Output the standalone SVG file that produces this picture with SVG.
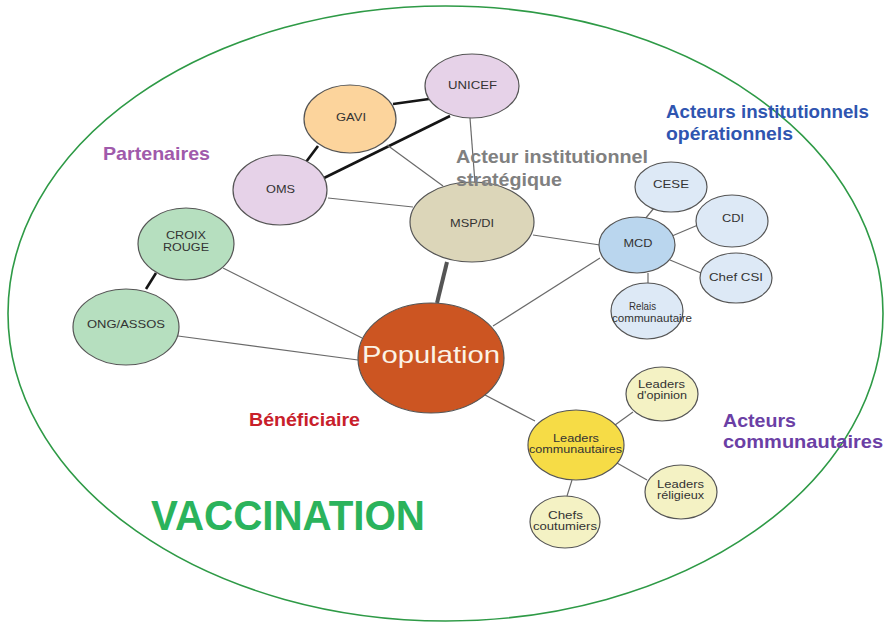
<svg xmlns="http://www.w3.org/2000/svg" width="887" height="624" viewBox="0 0 887 624">
<style>
.n{stroke:#555;stroke-width:1.2}
.t{font-family:"Liberation Sans",Arial,sans-serif;font-size:11px;fill:#333;text-anchor:middle}
.thin{stroke:#6a6a6a;stroke-width:1.2;fill:none}
.thick{stroke:#151515;stroke-width:2.6;fill:none}
.h{font-family:"Liberation Sans",Arial,sans-serif;font-weight:bold;font-size:18.5px}
.lav{fill:#e6d2e8}.lb{fill:#dde9f6}.gr{fill:#b6dfbf}.ly{fill:#f4f2c4}
</style>
<rect width="887" height="624" fill="#fff"/>
<ellipse cx="445.5" cy="313.5" rx="437.5" ry="307.5" fill="none" stroke="#2e9a46" stroke-width="1.6"/>
<g id="connectors">
<line class="thick" x1="393" y1="104" x2="429" y2="99"/>
<line class="thick" x1="324" y1="178" x2="450" y2="116"/>
<line class="thick" x1="306" y1="162" x2="318" y2="146"/>
<line class="thick" x1="156" y1="273" x2="146" y2="289"/>
<line class="thin" x1="387" y1="145" x2="443" y2="186"/>
<line class="thin" x1="470" y1="118" x2="475" y2="183"/>
<line class="thin" x1="328" y1="198" x2="413" y2="207"/>
<line class="thin" x1="533" y1="235" x2="600" y2="245"/>
<line x1="447" y1="262" x2="437" y2="303" stroke="#555" stroke-width="4"/>
<line class="thin" x1="600" y1="258" x2="493" y2="326"/>
<line class="thin" x1="645" y1="219" x2="654" y2="208"/>
<line class="thin" x1="672" y1="236" x2="698" y2="225"/>
<line class="thin" x1="670" y1="260" x2="701" y2="273"/>
<line class="thin" x1="648" y1="273" x2="648" y2="283"/>
<line class="thin" x1="223" y1="268" x2="362" y2="338"/>
<line class="thin" x1="178" y1="336" x2="358" y2="360"/>
<line class="thin" x1="485" y1="395" x2="535" y2="421"/>
<line class="thin" x1="615" y1="425" x2="633" y2="412"/>
<line class="thin" x1="617" y1="463" x2="647" y2="480"/>
<line class="thin" x1="572" y1="480" x2="567" y2="496"/>
</g>
<g id="unicef"><ellipse class="n lav" cx="472" cy="86" rx="47" ry="32"/><text class="t" x="472.5" y="89" textLength="49" lengthAdjust="spacingAndGlyphs">UNICEF</text></g>
<g id="gavi"><ellipse class="n" fill="#fcd49c" cx="350" cy="119" rx="46" ry="34"/><text class="t" x="351" y="121" textLength="30" lengthAdjust="spacingAndGlyphs">GAVI</text></g>
<g id="oms"><ellipse class="n lav" cx="280" cy="190" rx="47" ry="35"/><text class="t" x="280.5" y="193" textLength="29" lengthAdjust="spacingAndGlyphs">OMS</text></g>
<g id="msp"><ellipse class="n" fill="#dcd6b9" cx="472" cy="222" rx="62" ry="40"/><text class="t" x="472" y="227" textLength="44" lengthAdjust="spacingAndGlyphs">MSP/DI</text></g>
<g id="mcd"><ellipse class="n" fill="#bad6ee" cx="637" cy="245" rx="38" ry="28"/><text class="t" x="638" y="247" textLength="29" lengthAdjust="spacingAndGlyphs">MCD</text></g>
<g id="cese"><ellipse class="n lb" cx="671" cy="187" rx="36" ry="25"/><text class="t" x="671" y="188" textLength="36" lengthAdjust="spacingAndGlyphs">CESE</text></g>
<g id="cdi"><ellipse class="n lb" cx="732" cy="221" rx="36" ry="26"/><text class="t" x="733" y="222" textLength="22" lengthAdjust="spacingAndGlyphs">CDI</text></g>
<g id="chefcsi"><ellipse class="n lb" cx="736" cy="278" rx="36" ry="25"/><text class="t" x="736" y="281" textLength="54" lengthAdjust="spacingAndGlyphs">Chef CSI</text></g>
<g id="relais"><ellipse class="n lb" cx="647" cy="311" rx="36" ry="28"/><text class="t" x="642.5" y="310" textLength="27" lengthAdjust="spacingAndGlyphs">Relais</text><text class="t" x="652" y="322" textLength="80" lengthAdjust="spacingAndGlyphs">communautaire</text></g>
<g id="croixrouge"><ellipse class="n gr" cx="186" cy="244" rx="48" ry="36"/><text class="t" x="186" y="239" textLength="40" lengthAdjust="spacingAndGlyphs">CROIX</text><text class="t" x="186" y="251" textLength="46" lengthAdjust="spacingAndGlyphs">ROUGE</text></g>
<g id="ong"><ellipse class="n gr" cx="126" cy="327" rx="53" ry="38"/><text class="t" x="126" y="328" textLength="78" lengthAdjust="spacingAndGlyphs">ONG/ASSOS</text></g>
<g id="population"><ellipse class="n" fill="#cc5522" cx="431" cy="358" rx="73" ry="55"/><text x="431" y="363" font-family="'Liberation Sans',Arial,sans-serif" font-size="24" fill="#fbf3e6" text-anchor="middle" textLength="138" lengthAdjust="spacingAndGlyphs">Population</text></g>
<g id="leaderscom"><ellipse class="n" fill="#f6dc46" cx="576" cy="445" rx="48" ry="35"/><text class="t" x="576" y="442" textLength="46" lengthAdjust="spacingAndGlyphs">Leaders</text><text class="t" x="575.5" y="453" textLength="93" lengthAdjust="spacingAndGlyphs">communautaires</text></g>
<g id="leadersop"><ellipse class="n ly" cx="662" cy="394" rx="36" ry="27"/><text class="t" x="661.5" y="388" textLength="47" lengthAdjust="spacingAndGlyphs">Leaders</text><text class="t" x="662" y="399" textLength="50" lengthAdjust="spacingAndGlyphs">d'opinion</text></g>
<g id="leadersrel"><ellipse class="n ly" cx="681" cy="492" rx="36" ry="27"/><text class="t" x="680.5" y="488" textLength="47" lengthAdjust="spacingAndGlyphs">Leaders</text><text class="t" x="680.5" y="499" textLength="47" lengthAdjust="spacingAndGlyphs">réligieux</text></g>
<g id="chefs"><ellipse class="n ly" cx="565" cy="522" rx="35" ry="26"/><text class="t" x="565.5" y="519" textLength="35" lengthAdjust="spacingAndGlyphs">Chefs</text><text class="t" x="565" y="530" textLength="64" lengthAdjust="spacingAndGlyphs">coutumiers</text></g>
<g id="labels">
<text class="h" x="103" y="160" fill="#a05aab" textLength="107" lengthAdjust="spacingAndGlyphs">Partenaires</text>
<text class="h" x="456" y="163" fill="#808080" textLength="192" lengthAdjust="spacingAndGlyphs">Acteur institutionnel</text>
<text class="h" x="456" y="186" fill="#808080" textLength="106" lengthAdjust="spacingAndGlyphs">stratégique</text>
<text class="h" x="666" y="118" fill="#2f55b0" textLength="203" lengthAdjust="spacingAndGlyphs">Acteurs institutionnels</text>
<text class="h" x="666" y="140" fill="#2f55b0" textLength="127" lengthAdjust="spacingAndGlyphs">opérationnels</text>
<text class="h" x="249" y="426" fill="#c8202a" textLength="111" lengthAdjust="spacingAndGlyphs">Bénéficiaire</text>
<text class="h" x="723" y="427" fill="#6b3fa5" textLength="73" lengthAdjust="spacingAndGlyphs">Acteurs</text>
<text class="h" x="723" y="448" fill="#6b3fa5" textLength="160" lengthAdjust="spacingAndGlyphs">communautaires</text>
<text x="151" y="530" font-family="'Liberation Sans',Arial,sans-serif" font-weight="bold" font-size="42" fill="#2bb35c" textLength="274" lengthAdjust="spacingAndGlyphs">VACCINATION</text>
</g>
</svg>
